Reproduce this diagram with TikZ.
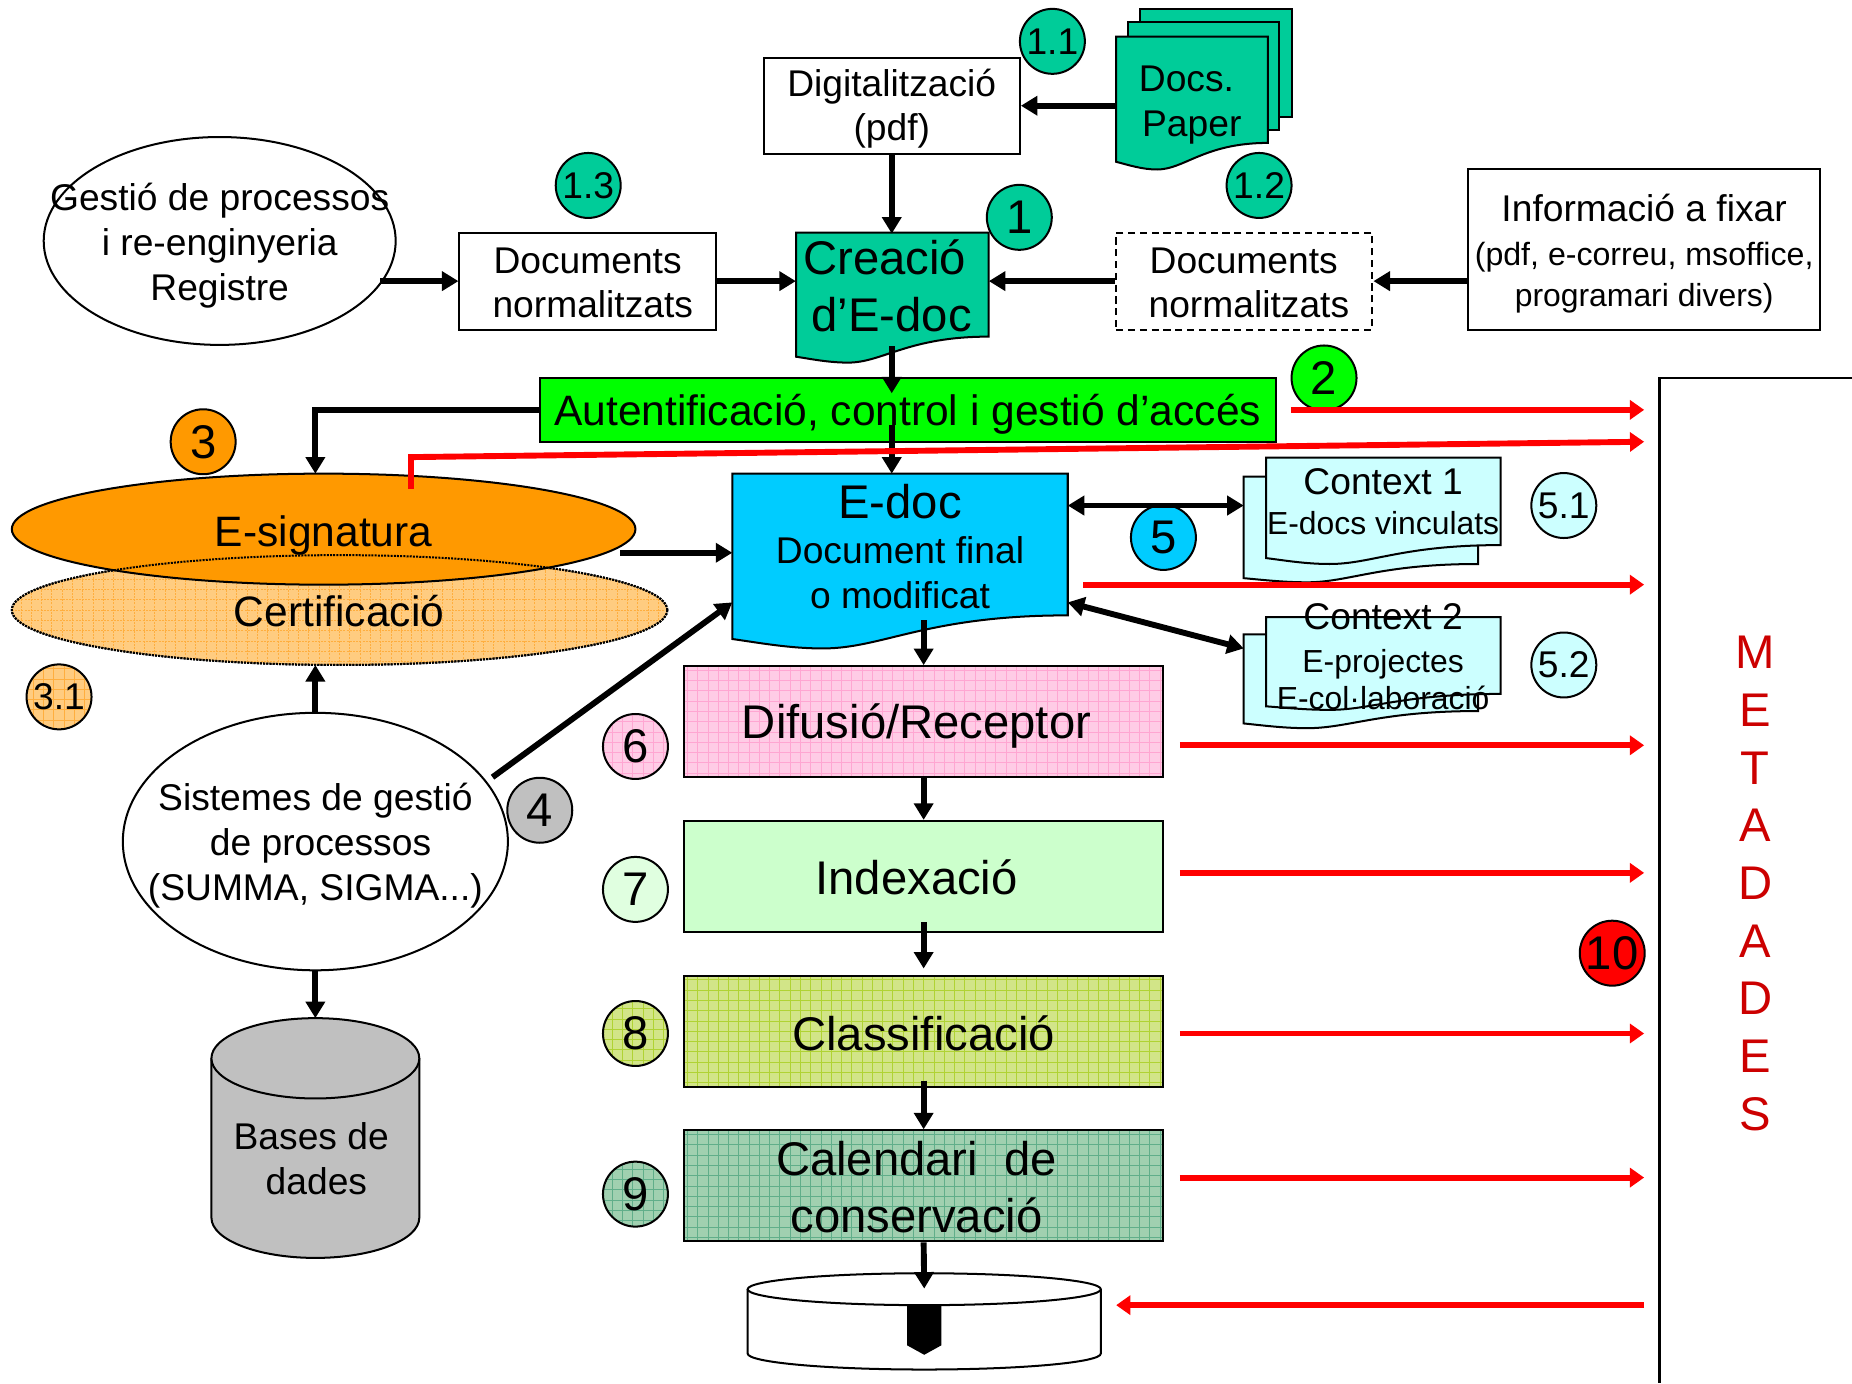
\documentclass[tikz,border=0pt]{standalone}
\usepackage{fontspec}
\setmainfont{Liberation Sans}
\usetikzlibrary{arrows.meta,shapes.geometric,calc}
\definecolor{cGreen}{HTML}{00CC99}
\definecolor{cLime}{HTML}{00FF00}
\definecolor{cOrange}{HTML}{FF9900}
\definecolor{cCert}{HTML}{FFCC80}
\definecolor{cCertG}{HTML}{FFAE3E}
\definecolor{cBlue}{HTML}{00CCFF}
\definecolor{cCyan}{HTML}{CCFFFF}
\definecolor{cPink}{HTML}{FFCCE6}
\definecolor{cPinkG}{HTML}{FFA6D2}
\definecolor{cMint}{HTML}{CCFFCC}
\definecolor{cOlive}{HTML}{D2E588}
\definecolor{cOliveG}{HTML}{B0D334}
\definecolor{cSea}{HTML}{A0D0B0}
\definecolor{cSeaG}{HTML}{60AE8A}
\definecolor{cGray}{HTML}{C0C0C0}
\definecolor{cMeta}{HTML}{CC0000}
\newcommand{\fsA}{\fontsize{31.5}{38}\selectfont}
\newcommand{\fsB}{\fontsize{40}{48}\selectfont}
\newcommand{\fsC}{\fontsize{36}{43}\selectfont}
\newcommand{\fsD}{\fontsize{27}{33}\selectfont}
% left top right rightBottom leftBottom lowest fill
\newcommand{\wavedoc}[7]{%
  \draw[fill=#7,line width=1.7pt,line join=miter] (#1,#2) -- (#3,#2) -- (#3,#4)
    .. controls ({#3-0.42*(#3-#1)},#4) and ({#1+0.45*(#3-#1)},#6) .. ({#1+0.27*(#3-#1)},#6)
    .. controls ({#1+0.17*(#3-#1)},#6) and ({#1+0.08*(#3-#1)},{#5+0.4*(#6-#5)}) .. (#1,#5) -- cycle;}
\tikzset{
  x=1pt,y=-1pt,
  boxstyle/.style={draw,line width=1.7pt,inner sep=0pt,align=center,font=\fsA},
  gridfill/.style n args={2}{fill=#1,path picture={\draw[#2,line width=0.6pt,step=8.7pt]
     (path picture bounding box.south west) grid (path picture bounding box.north east);}},
  flowbox/.style={boxstyle,minimum width=406pt,minimum height=94pt,font=\fsB},
  lbl/.style={inner sep=0pt,align=center,font=\fsA},
  oval/.style={ellipse,draw,line width=1.7pt,inner sep=0pt},
  numc/.style={circle,draw,line width=1.7pt,minimum size=55pt,inner sep=0pt,font=\fsA},
  numd/.style={numc,font=\fsB},
  blk/.style={line width=5pt,-{Triangle[length=14pt,width=16pt]}},
  blkb/.style={line width=5pt,{Triangle[length=14pt,width=16pt]}-{Triangle[length=14pt,width=16pt]}},
  redl/.style={line width=5pt,red,-{Triangle[length=12pt,width=16pt]}},
}
\begin{document}
\begin{tikzpicture}
\useasboundingbox (0,0) rectangle (1568,1171);
% metadades panel
\draw[line width=1.7pt] (1568,320) -- (1405,320) -- (1405,1171);
\node[inner sep=0pt,align=center,text=cMeta,font=\fontsize{40}{48.8}\selectfont] (meta) at (1486,748)
  {M\\E\\T\\A\\D\\A\\D\\E\\S};
% paper stack
\draw[fill=cGreen,line width=1.7pt] (965,8) rectangle (1094,99);
\draw[fill=cGreen,line width=1.7pt] (955,19) rectangle (1083,110);
\wavedoc{945}{31}{1073.5}{121}{137}{143.5}{cGreen}
\node[lbl,minimum width=128pt,minimum height=90pt] (paper) at (1009,89) {Docs.\hspace*{9pt}\\Paper};
% top row
\node[boxstyle,fill=white,minimum width=217pt,minimum height=81pt] (digi) at (755,89.5) {};
\node[lbl] (digiT) at (755,92) {Digitalització\\(pdf)};
\node[oval,minimum width=298pt,minimum height=176pt] (gestio) at (186,204) {};
\node[lbl] (gestioT) at (186,208) {Gestió de processos\\i re-enginyeria\\Registre};
\node[boxstyle,minimum width=217pt,minimum height=82pt] (docL) at (497.5,238) {};
\node[lbl] (docLT) at (497.5,239.5) {Documents\\\ normalitzats};
\wavedoc{674}{197}{837}{285}{302}{307}{cGreen}
\node[lbl,font=\fsB,minimum width=163pt,minimum height=88pt] (creacio) at (755.5,242) {Creació\hspace*{13pt}\\d’E-doc\hspace*{1pt}};
\node[boxstyle,dashed,dash pattern=on 6pt off 4pt,minimum width=217pt,minimum height=82pt] (docR) at (1053.5,238) {};
\node[lbl] (docRT) at (1053,239.5) {Documents\\\ normalitzats};
\node[boxstyle,minimum width=298pt,minimum height=136pt] (info) at (1392,211) {};
\node[lbl] (infoT) at (1392,215)
  {Informació a fixar\\[-1pt]{\fontsize{27.2}{33}\selectfont (pdf, e-correu, msoffice,}\\[-3pt]{\fontsize{27}{33}\selectfont programari divers)}};
% auth
\node[boxstyle,fill=cLime,minimum width=623pt,minimum height=54pt] (auth) at (768.5,347) {};
\node[lbl,font=\fsC] (authT) at (768.5,351) {Autentificació, control i gestió d’accés};
% certificacio + signatura
\node[oval,densely dotted,gridfill={cCert}{cCertG},minimum width=555pt,minimum height=93pt] (cert) at (287.5,516.5) {};
\node[oval,fill=cOrange,minimum width=528pt,minimum height=94pt] (esig) at (274,448) {};
\draw[densely dotted,line width=1.7pt] (287.5,516.5) ellipse [x radius=277.5,y radius=46.5];
\node[lbl,font=\fsC] (esigT) at (274,453) {E-signatura};
\node[lbl,font=\fsC] (certT) at (287,517) {Certificació};
% e-doc
\wavedoc{620}{401}{904}{521}{541}{549}{cBlue}
\node[lbl,minimum width=284pt,minimum height=120pt] (edoc) at (762,463)
  {{\fsB E-doc}\\[0pt]Document final\\o modificat};
% contexts
\wavedoc{1053}{403.5}{1251.5}{477.5}{489.5}{493}{cCyan}
\wavedoc{1072}{387.5}{1270.5}{461.5}{472.5}{477.5}{cCyan}
\node[lbl,minimum width=217pt] (ctxA) at (1171,425) {Context 1\\[-4pt]{\fsD E-docs vinculats}};
\wavedoc{1053}{537}{1251.5}{602}{612.5}{616.5}{cCyan}
\wavedoc{1072}{522.5}{1270.5}{587.5}{598}{601}{cCyan}
\node[lbl,minimum width=217pt] (ctxB) at (1171,556) {Context 2\\[-2pt]{\fsD E-projectes}\\[-7pt]{\fsD E-col·laboració}};
% flow boxes
\node[flowbox,gridfill={cPink}{cPinkG}] (dif) at (782,611) {};
\node[lbl,font=\fsB] (difT) at (776,615) {Difusió/Receptor};
\node[flowbox,fill=cMint] (idx) at (782,742) {};
\node[lbl,font=\fsB] (idxT) at (776,743) {Indexació};
\node[flowbox,gridfill={cOlive}{cOliveG}] (cla) at (782,873) {};
\node[lbl,font=\fsB] (claT) at (782,875) {Classificació};
\node[flowbox,gridfill={cSea}{cSeaG}] (cal) at (782,1004) {};
\node[lbl,font=\fsB] (calT) at (776,1005) {Calendari\ \ de\\conservació};
% sistemes
\node[oval,minimum width=326pt,minimum height=218pt] (sist) at (267,712.5) {};
\node[lbl] (sistT) at (267,716) {Sistemes de gestió\\\ de processos\\(SUMMA, SIGMA...)};
% bases cylinder
\draw[fill=cGray,line width=1.7pt] (179,896) -- (179,1031) arc[start angle=180,end angle=0,x radius=88,y radius=34] -- (355,896);
\draw[fill=cGray,line width=1.7pt] (267,896) ellipse [x radius=88,y radius=34];
\node[lbl] (bases) at (263.5,981) {Bases de\\\ dades};
\coordinate (basesTop) at (267,862);
% disk
\draw[fill=white,line width=1.7pt] (633,1091.5) -- (633,1146) arc[start angle=180,end angle=0,x radius=149.5,y radius=13.5] -- (932,1091.5);
\draw[fill=white,line width=1.7pt] (782.5,1091.5) ellipse [x radius=149.5,y radius=13.5];
\fill (768,1105) -- (797,1105) -- (797,1139) -- (782.5,1147) -- (768,1139) -- cycle;
\coordinate (diskTop) at (782.5,1091);
% badges
\node[numc,fill=cGreen] (n11) at (891,35) {1.1};
\node[numc,fill=cGreen] (n12) at (1066,157) {1.2};
\node[numc,fill=cGreen] (n13) at (498,157) {1.3};
\node[numd,fill=cGreen] (n1) at (863,184) {1};
\node[numd,fill=cLime] (n2) at (1121,320) {2};
\node[numd,fill=cOrange] (n3) at (172,374) {3};
\node[numc,gridfill={cCert}{cCertG}] (n31) at (50,590) {3.1};
\node[numd,fill=cGray] (n4) at (457,686) {4};
\node[numd,fill=cBlue] (n5) at (985,455) {5};
\node[numc,fill=cCyan] (n51) at (1324,428) {5.1};
\node[numc,fill=cCyan] (n52) at (1324,563) {5.2};
\node[numd,gridfill={cPink}{cPinkG}] (n6) at (538,632) {6};
\node[numd,fill=cMint!60!white] (n7) at (538,753) {7};
\node[numd,gridfill={cOlive}{cOliveG}] (n8) at (538,875) {8};
\node[numd,gridfill={cSea}{cSeaG}] (n9) at (538,1011) {9};
\node[numd,fill=red] (n10) at (1365,807) {10};
% free ends
\coordinate (gestioOut) at (322,238);
\coordinate (creaOut) at (755,293);
\coordinate (authTip) at (755,333);
\coordinate (authOut) at (755,360);
\coordinate (edocTop) at (755,401);
\coordinate (esigTop) at (267,401);
\coordinate (esigOut) at (525,468);
\coordinate (edocW) at (620,468);
\coordinate (certBot) at (267,563);
\coordinate (sistTop) at (267,604.5);
\coordinate (sistOut) at (417,658);
\coordinate (edocWb) at (620,510);
\coordinate (sistBot) at (267,821.5);
\coordinate (edocE) at (904,428);
\coordinate (ctxAw) at (1053,428);
\coordinate (edocEb) at (904,510);
\coordinate (ctxBw) at (1053,549);
\coordinate (edocOut) at (782,525);
\coordinate (idxOut) at (782,781);
\coordinate (idxTipB) at (782,820);
\coordinate (claOut) at (782,915);
% black connectors
\draw[blk] (paper.west |- digi.east) -- (digi.east);
\draw[blk] (digi.south) -- (digi.south |- creacio.north);
\draw[blk] (gestioOut) -- (docL.west);
\draw[blk] (docL.east) -- (creacio.west |- docL.east);
\draw[blk] (docR.west) -- (creacio.east |- docR.west);
\draw[blk] (info.west |- docR.east) -- (docR.east);
\draw[blk] (creaOut) -- (authTip);
\draw[blk] (authOut) -- (edocTop);
\draw[blk] (auth.west) -| (esigTop);
\draw[blk] (esigOut) -- (edocW);
\draw[blk] (sistTop) -- (certBot);
\draw[blk] (sistOut) -- (edocWb);
\draw[blk] (sistBot) -- (basesTop);
\draw[blkb] (edocE) -- (ctxAw);
\draw[blkb] (edocEb) -- (ctxBw);
\draw[blk] (edocOut) -- (dif.north);
\draw[blk] (dif.south) -- (idx.north);
\draw[blk] (idxOut) -- (idxTipB);
\draw[blk] (claOut) -- (cal.north);
\draw[blk] (cal.south) -- (diskTop);
% red connectors
\coordinate (rAuth) at (1093,347); \coordinate (mAuth) at (1392,347);
\coordinate (rSig) at (348,414); \coordinate (rSigC) at (348,387); \coordinate (mSig) at (1392,374);
\coordinate (rDoc) at (917,495); \coordinate (mDoc) at (1392,495);
\coordinate (rDif) at (999,631); \coordinate (mDif) at (1392,631);
\coordinate (rIdx) at (999,739); \coordinate (mIdx) at (1392,739);
\coordinate (rCla) at (999,875); \coordinate (mCla) at (1392,875);
\coordinate (rCal) at (999,997); \coordinate (mCal) at (1392,997);
\coordinate (mDisk) at (1392,1105); \coordinate (rDisk) at (945,1105);
\draw[redl] (rAuth) -- (mAuth);
\draw[redl] (rSig) -- (rSigC) -- (mSig);
\draw[redl] (rDoc) -- (mDoc);
\draw[redl] (rDif) -- (mDif);
\draw[redl] (rIdx) -- (mIdx);
\draw[redl] (rCla) -- (mCla);
\draw[redl] (rCal) -- (mCal);
\draw[redl] (mDisk) -- (rDisk);
\end{tikzpicture}
\end{document}
